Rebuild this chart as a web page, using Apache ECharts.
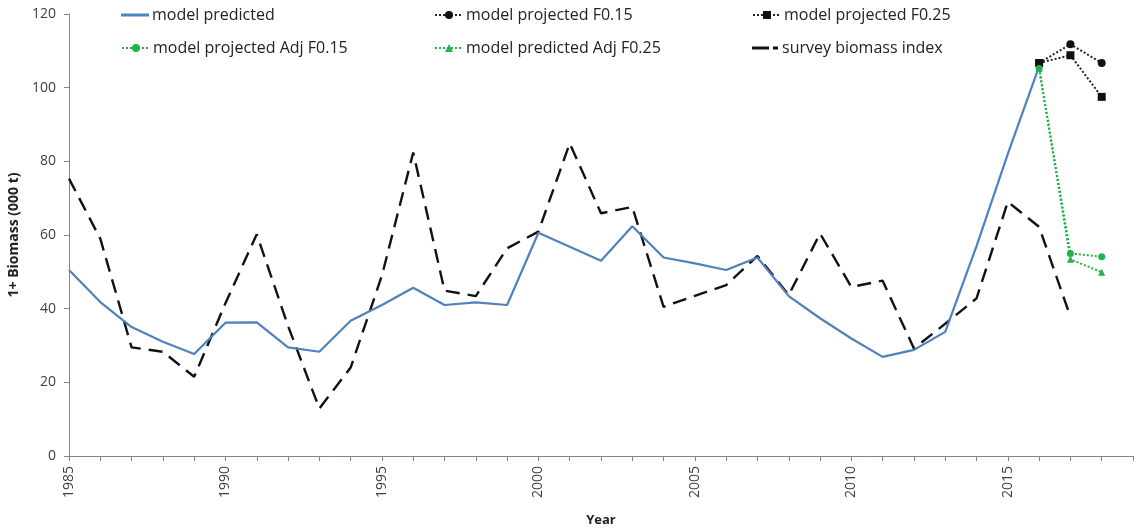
<!DOCTYPE html>
<html>
<head>
<meta charset="utf-8">
<script src="https://cdn.jsdelivr.net/npm/echarts@6/dist/echarts.min.js"></script>
<style>
  html, body { margin: 0; padding: 0; background: #fff; }
  #chart { width: 1141px; height: 529px; }
</style>
</head>
<body>
<div id="chart"></div>
<script>
// Years 1985–2019 (the last slot only extends the axis)
const years = [];
for (let y = 1985; y <= 2019; y++) years.push(String(y));

// 1+ biomass (000 t)
const modelPredicted = [
  50.5, 41.8, 35.0, 31.0, 27.7, 36.2, 36.3, 29.5, 28.3, 36.7,
  41.0, 45.7, 41.0, 41.7, 41.0, 60.6, 56.8, 53.0, 62.4, 53.9,
  52.3, 50.5, 53.9, 43.4, 37.4, 31.9, 26.9, 28.8, 33.7, 57.0,
  82.0, 105.8, null, null, null
];
const surveyIndex = [
  75.3, 59.0, 29.5, 28.3, 21.5, 41.5, 60.2, 35.3, 12.9, 24.0,
  49.0, 82.4, 44.9, 43.4, 56.4, 60.9, 84.9, 65.9, 67.6, 40.5,
  43.5, 46.4, 54.3, 43.7, 60.4, 45.9, 47.6, 29.2, 35.9, 42.8,
  69.0, 62.2, 37.8, null, null
];
// Projections start from the 2016 estimate
const projYears = ['2016', '2017', '2018'];
const projF015 = [106.7, 111.8, 106.7];
const projF025 = [106.7, 108.8, 97.5];
const projAdjF015 = [105.2, 55.0, 54.1];
const predAdjF025 = [105.2, 53.4, 49.9];

function alignToYears(ys, vals) {
  return years.map(y => {
    const i = ys.indexOf(y);
    return i >= 0 ? vals[i] : null;
  });
}

const BLUE = '#4f81bd';
const GREEN = '#1fb34a';
const AXIS = '#868686';
const TEXT = '#404040';
const FONT = 'Open Sans';

// One legend box per entry so the entries sit in a fixed 3 x 2 layout
function legendAt(item, left, top, iconH) {
  return {
    data: [item], left: left, top: top,
    itemWidth: 28, itemHeight: iconH || 10, itemGap: 3,
    textStyle: { fontFamily: FONT, fontSize: 16, color: '#222', padding: [0, 0, 0, -2] },
    padding: 0
  };
}

const chart = echarts.init(document.getElementById('chart'), null, { renderer: 'canvas' });
chart.setOption({
  animation: false,
  backgroundColor: '#fff',
  legend: [
    legendAt({ name: 'model predicted', icon: 'rect' }, 121, 7, 3),
    legendAt('model projected F0.15', 434, 7),
    legendAt('model projected F0.25', 752, 7),
    legendAt('model projected Adj F0.15', 121, 40),
    legendAt('model predicted Adj F0.25', 434, 40),
    legendAt({ name: 'survey biomass index', icon: 'path://M0,0 H17 V3 H0 Z M21,0 H26 V3 H21 Z' }, 752, 40, 3)
  ],
  grid: { left: 69, right: 8, top: 14, bottom: 73, containLabel: false, outerBoundsMode: 'none' },
  xAxis: {
    type: 'category',
    data: years,
    boundaryGap: false,
    name: 'Year',
    nameLocation: 'middle',
    nameGap: 58,
    nameTextStyle: { fontFamily: FONT, fontSize: 13, fontWeight: 'bold', color: '#222' },
    axisLine: { lineStyle: { color: AXIS, width: 1 } },
    axisTick: { show: true, interval: 0, length: 5, lineStyle: { color: AXIS } },
    axisLabel: {
      interval: (i) => i % 5 === 0,
      rotate: 90,
      margin: 10,
      fontFamily: FONT, fontSize: 14, color: TEXT
    },
    splitLine: { show: false }
  },
  yAxis: {
    type: 'value',
    min: 0, max: 120, interval: 20,
    name: '1+ Biomass (000 t)',
    nameLocation: 'middle',
    nameGap: 41,
    nameRotate: 90,
    nameTextStyle: { fontFamily: FONT, fontSize: 14, fontWeight: 'bold', color: '#222' },
    axisLine: { show: true, lineStyle: { color: AXIS, width: 1 } },
    axisTick: { show: true, length: 5, lineStyle: { color: AXIS } },
    axisLabel: { margin: 13, fontFamily: FONT, fontSize: 14, color: TEXT },
    splitLine: { show: false }
  },
  series: [
    {
      name: 'model predicted', type: 'line', data: modelPredicted,
      showSymbol: false, symbol: 'none',
      lineStyle: { color: BLUE, width: 2.2 }, itemStyle: { color: BLUE },
      z: 3
    },
    {
      name: 'survey biomass index', type: 'line', data: surveyIndex,
      showSymbol: false, symbol: 'none',
      lineStyle: { color: '#111', width: 2.4, type: [14, 8] }, itemStyle: { color: '#111' },
      z: 2
    },
    {
      name: 'model projected F0.15', type: 'line', data: alignToYears(projYears, projF015),
      symbol: 'circle', symbolSize: 8,
      lineStyle: { color: '#222', width: 2, type: [2, 2] }, itemStyle: { color: '#111' },
      z: 4
    },
    {
      name: 'model projected F0.25', type: 'line', data: alignToYears(projYears, projF025),
      symbol: 'rect', symbolSize: 8,
      lineStyle: { color: '#222', width: 2, type: [2, 2] }, itemStyle: { color: '#111' },
      z: 4
    },
    {
      name: 'model projected Adj F0.15', type: 'line', data: alignToYears(projYears, projAdjF015),
      symbol: 'circle', symbolSize: 7,
      lineStyle: { color: GREEN, width: 2, type: [2, 2] }, itemStyle: { color: GREEN },
      z: 5
    },
    {
      name: 'model predicted Adj F0.25', type: 'line', data: alignToYears(projYears, predAdjF025),
      symbol: 'triangle', symbolSize: 7,
      lineStyle: { color: GREEN, width: 2, type: [2, 2] }, itemStyle: { color: GREEN },
      z: 5
    }
  ]
});
</script>
</body>
</html>
